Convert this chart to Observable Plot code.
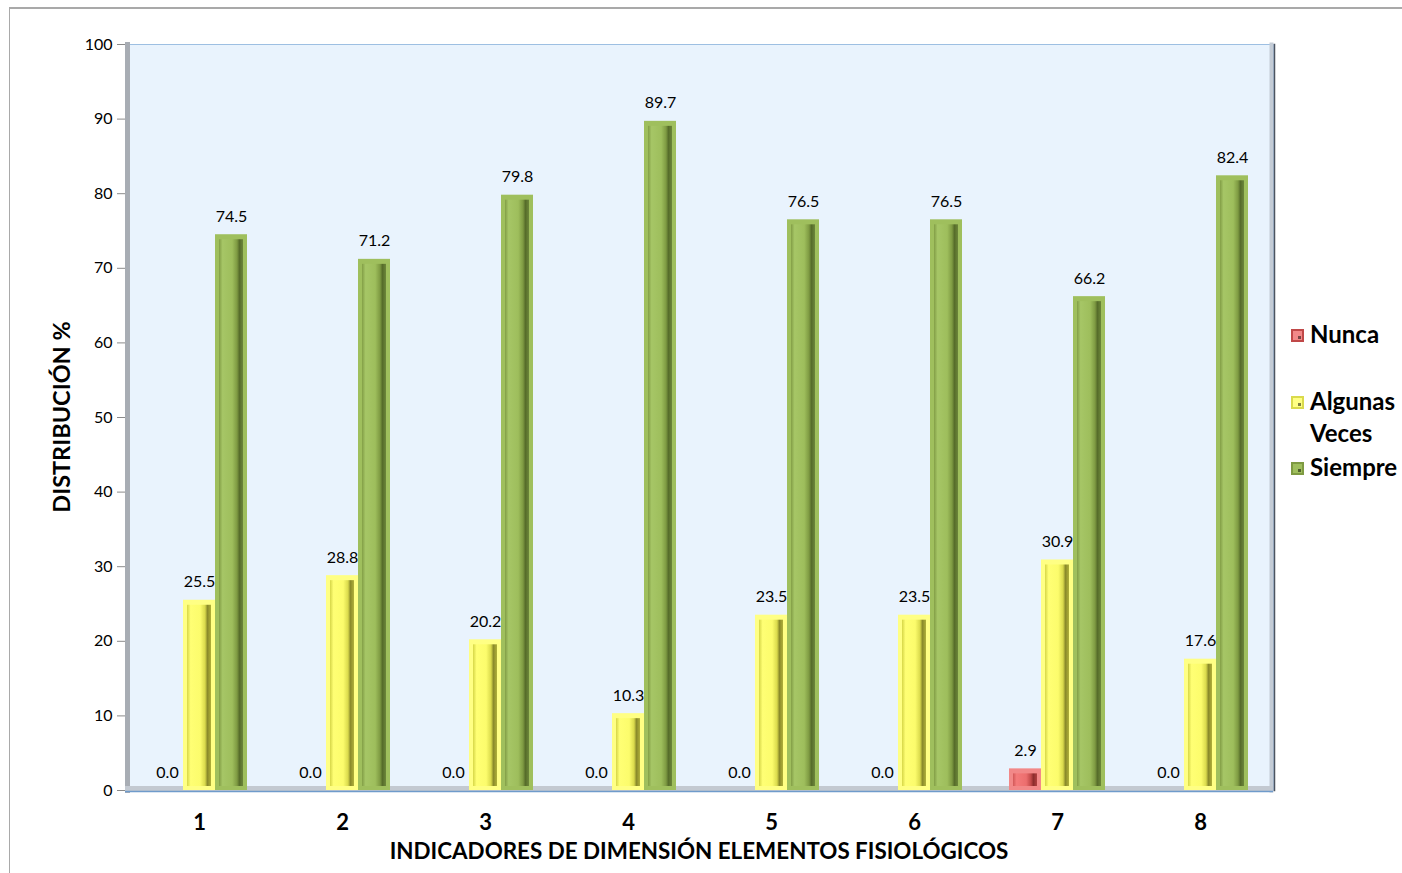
<!DOCTYPE html>
<html>
<head>
<meta charset="utf-8">
<script src="https://cdn.jsdelivr.net/npm/d3@7"></script>
<script src="https://cdn.jsdelivr.net/npm/@observablehq/plot@0.6"></script>
<style>
  body { margin: 0; background: #fff; font-family: Lato, "Open Sans", sans-serif; }
  #wrap { position: relative; width: 1402px; height: 873px; overflow: hidden; }
  #border { position: absolute; left: 9px; top: 7px; width: 1500px; height: 900px;
            border-top: 2px solid #a9a9a9; border-left: 1px solid #a9a9a9; }
  #chart { position: absolute; left: 0; top: 0; }
  .title { position: absolute; font-weight: bold; color: #000; white-space: nowrap; }
  #xtitle { left: 125px; width: 1148px; top: 837px; text-align: center; font-size: 22.4px; }
  #ytitle { left: 61px; top: 417px; font-size: 23.5px; transform: translate(-50%, -50%) rotate(-90deg); }
  .leg { position: absolute; left: 1291px; font-weight: bold; font-size: 24px; line-height: 32px; color: #000; }
  .sw { display: inline-block; width: 13px; height: 13px; margin-right: 6px; vertical-align: 1px;
        box-sizing: border-box; position: relative; }
  .sw::after { content: ""; position: absolute; left: 5px; top: 5px; width: 3px; height: 3px; background: rgba(0,0,0,0.5); }
  .leg .cont { display: block; padding-left: 19px; }
</style>
</head>
<body>
<div id="wrap">
  <div id="border"></div>
  <div id="chart"></div>
  <div id="ytitle" class="title">DISTRIBUCIÓN %</div>
  <div id="xtitle" class="title">INDICADORES DE DIMENSIÓN ELEMENTOS FISIOLÓGICOS</div>
  <div id="legend"></div>
</div>
<script>
// Indicators of the physiological-elements dimension and the share (%) per answer
const indicators = ["1", "2", "3", "4", "5", "6", "7", "8"];
const nunca    = [0.0, 0.0, 0.0, 0.0, 0.0, 0.0, 2.9, 0.0];
const algunas  = [25.5, 28.8, 20.2, 10.3, 23.5, 23.5, 30.9, 17.6];
const siempre  = [74.5, 71.2, 79.8, 89.7, 76.5, 76.5, 66.2, 82.4];
const seriesNames = ["Nunca", "Algunas Veces", "Siempre"];
const yTicks = [0, 10, 20, 30, 40, 50, 60, 70, 80, 90, 100];

const table = indicators.map((ind, i) => ({
  ind, Nunca: nunca[i], Algunas: algunas[i], Siempre: siempre[i]
}));
const keys = ["Nunca", "Algunas", "Siempre"];

// Bevel colours per series: rim colour and a horizontal gradient for the face
const styles = {
  Nunca:   { rim: "#f28888", grad: "gR", stops: ["#d25858", "#f47a7a", "#ec6e6e", "#c04848", "#8c2c2c", "#b04040"] },
  Algunas: { rim: "#ffff84", grad: "gY", stops: ["#d6d648", "#ffff74", "#fcfc6c", "#dada4c", "#8a8a2a", "#b0b03a"] },
  Siempre: { rim: "#9fbf5d", grad: "gG", stops: ["#829e46", "#a6c666", "#9ebe5c", "#7e9a42", "#566c2a", "#6c863a"] }
};

const barW = 32;           // width of one sub-bar inside a group
const W = 1402, H = 873;
const margin = { top: 44, right: 129, bottom: 83, left: 125 };

const marks = [
  Plot.frame({ fill: "#e9f3fd", stroke: "#9dbfe2" }),
  Plot.frame({ anchor: "left", stroke: "#a8adb4", strokeWidth: 5, dx: 2 }),
  Plot.frame({ anchor: "right", stroke: "#c4ccd6", strokeWidth: 4, dx: -2 }),
  Plot.frame({ anchor: "right", stroke: "#4c5460", strokeWidth: 1.5, dx: 1 }),
  Plot.ruleY([0], { stroke: "#c3c9d1", strokeWidth: 5, dy: -2 }),
  Plot.ruleY([0], { stroke: "#6f9bcb", strokeWidth: 1.5, dy: 1 })
];

keys.forEach((k, i) => {
  const s = styles[k];
  const iL = i * barW, iR = (2 - i) * barW;
  const rows = table.filter(d => d[k] > 0);
  marks.push(
    Plot.barY(rows, { x: "ind", y: k, fill: s.rim, insetLeft: iL, insetRight: iR }),
    Plot.barY(rows, { x: "ind", y: k, fill: `url(#${s.grad})`,
      insetLeft: iL + 4, insetRight: iR + 4, insetTop: 5, insetBottom: 4 }),
    Plot.text(table, { x: "ind", y: k, text: d => d[k].toFixed(1),
      dx: (i - 1) * barW, dy: -18, fontSize: 16, fill: "#000" })
  );
});

marks.push(
  Plot.axisY({ ticks: yTicks, tickSize: 8, tickPadding: 5, fontSize: 16, stroke: "#8a8a8a",
    label: null, tickFormat: d => d }),
  Plot.axisX({ tickSize: 0, tickPadding: 24, fontSize: 22, fontWeight: "bold", label: null })
);

const chart = Plot.plot({
  width: W, height: H,
  marginTop: margin.top, marginRight: margin.right, marginBottom: margin.bottom, marginLeft: margin.left,
  style: { fontFamily: "Lato, 'Open Sans', sans-serif", background: "transparent", color: "#000" },
  x: { domain: indicators, paddingInner: 0.331, paddingOuter: 0.1655, axis: null },
  y: { domain: [0, 100], axis: null },
  marks
});

// Horizontal gradients giving each bar its bevelled look
const ns = "http://www.w3.org/2000/svg";
const defs = document.createElementNS(ns, "defs");
Object.values(styles).forEach(s => {
  const g = document.createElementNS(ns, "linearGradient");
  g.setAttribute("id", s.grad);
  g.setAttribute("x1", "0"); g.setAttribute("x2", "1"); g.setAttribute("y1", "0"); g.setAttribute("y2", "0");
  const offs = [0, 0.15, 0.55, 0.75, 0.85, 1];
  s.stops.forEach((c, j) => {
    const st = document.createElementNS(ns, "stop");
    st.setAttribute("offset", offs[j]);
    st.setAttribute("stop-color", c);
    g.appendChild(st);
  });
  defs.appendChild(g);
});
chart.insertBefore(defs, chart.firstChild);
document.getElementById("chart").appendChild(chart);

// Legend
const legend = document.getElementById("legend");
const legTops = [318, 385, 451];
seriesNames.forEach((name, i) => {
  const s = styles[keys[i]];
  const el = document.createElement("div");
  el.className = "leg";
  el.style.top = legTops[i] + "px";
  const words = name.split(" ");
  el.innerHTML = `<span class="sw" style="background:${s.rim};border:2px solid ${s.stops[3]}"></span>${words[0]}` +
    (words.length > 1 ? `<span class="cont">${words.slice(1).join(" ")}</span>` : "");
  legend.appendChild(el);
});
</script>
</body>
</html>
